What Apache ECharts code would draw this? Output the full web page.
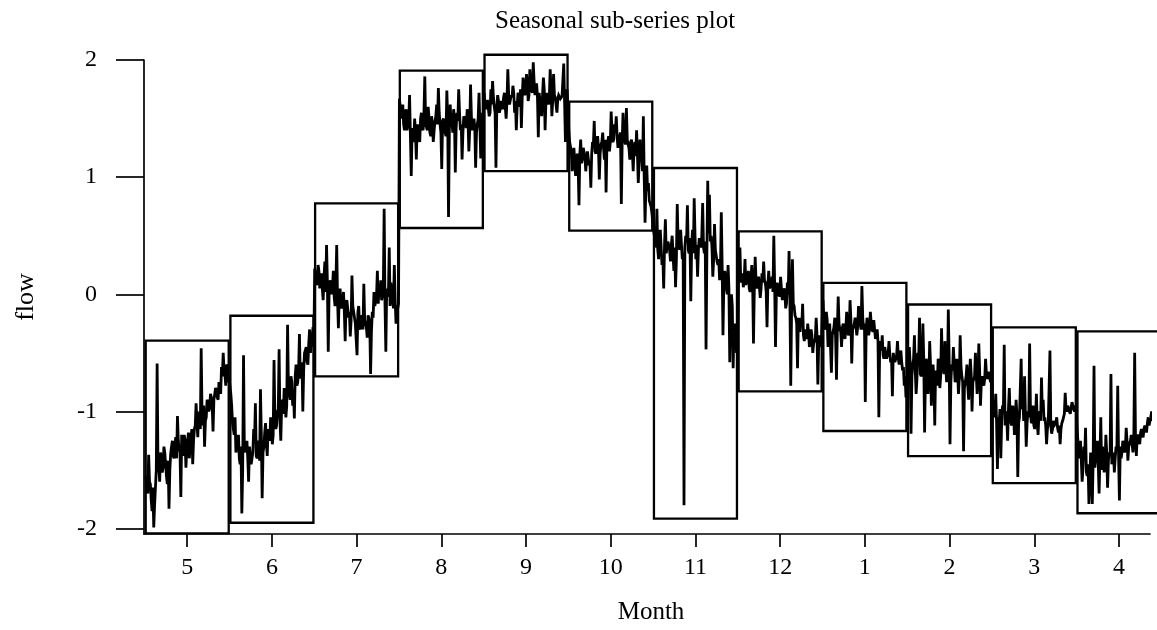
<!DOCTYPE html>
<html><head><meta charset="utf-8">
<script src="https://cdn.jsdelivr.net/npm/echarts@6/dist/echarts.min.js"></script>
<style>html,body{margin:0;padding:0;background:#fff}#c{width:1157px;height:630px}</style>
</head><body><div id="c"></div>
<script>
const months = ['5','6','7','8','9','10','11','12','1','2','3','4'];
const yTicks = [-2, -1, 0, 1, 2];
const boxHigh = [-0.395, -0.183, 0.776, 1.91, 2.045, 1.644, 1.078, 0.538, 0.097, -0.087, -0.282, -0.316];
const boxLow  = [-2.04, -1.95, -0.70, 0.566, 1.052, 0.544, -1.914, -0.828, -1.167, -1.382, -1.611, -1.869];

// readings of the flow trace, month by month (odd-numbered observations)
const flow_5 = [-1.58,-1.65,-1.37,-1.62,-1.85,-1.99,-1.80,-0.59,-1.48,-1.35,-1.52,-1.30,-1.45,-1.62,-1.83,-1.36,-1.25,-1.40,-1.22,-1.04,-1.32,-1.73,-1.30,-1.20,-1.48,-1.25,-1.40,-1.22,-1.45,-1.15,-0.93,-1.22,-1.10,-0.46,-1.12,-1.30,-1.05,-0.92,-0.97,-0.88,-1.17,-0.85,-0.82,-0.90,-0.78,-0.62,-0.50,-0.68,-0.60,-0.75];
const flow_6 = [-0.72,-0.95,-1.15,-1.05,-1.30,-1.20,-1.45,-1.87,-0.52,-1.35,-1.25,-1.60,-1.30,-1.45,-1.15,-0.93,-1.40,-1.25,-0.81,-1.74,-1.30,-1.10,-1.38,-1.20,-1.05,-1.28,-0.56,-1.15,-1.00,-0.47,-1.25,-0.90,-0.80,-1.05,-0.26,-0.85,-0.70,-0.95,-1.06,-0.60,-0.75,-0.34,-0.62,-1.00,-0.50,-0.45,-0.60,-0.30,-0.40,-0.28];
const flow_7 = [0.22,0.10,0.25,0.05,0.18,-0.05,0.28,0.42,-0.49,0.12,0.00,0.20,-0.10,0.42,-0.29,0.05,-0.12,0.02,-0.40,-0.05,-0.20,-0.36,0.16,-0.15,-0.25,-0.52,-0.10,-0.30,-0.18,0.09,-0.25,-0.37,-0.20,-0.68,-0.15,0.02,-0.10,0.20,0.05,0.12,-0.05,0.73,-0.49,0.05,0.40,0.10,-0.05,0.25,-0.25,-0.12];
const flow_8 = [1.67,1.55,1.62,1.40,1.58,1.45,1.70,1.01,1.35,1.50,1.15,1.42,1.30,1.55,1.40,1.86,1.45,1.60,1.38,1.52,1.30,1.48,1.62,1.76,1.45,1.07,1.50,1.38,1.74,0.66,1.62,1.48,1.58,1.04,1.55,1.75,1.40,1.15,1.52,1.45,1.58,1.22,1.79,1.40,1.50,1.08,1.45,1.72,1.16,1.55];
const flow_9 = [1.72,1.60,1.66,1.52,1.75,1.82,1.60,1.08,1.70,1.55,1.65,1.58,1.72,1.50,1.92,1.62,1.70,1.78,1.55,1.40,1.72,1.60,1.42,1.85,1.70,1.88,1.65,1.92,1.75,1.98,1.70,1.80,1.34,1.65,1.52,1.85,1.40,1.72,1.62,1.92,1.52,1.88,1.68,1.55,1.70,1.67,1.69,1.97,1.30,1.75];
const flow_10 = [1.40,1.30,1.05,1.25,1.01,1.20,0.76,1.32,1.15,1.25,1.05,1.22,1.10,0.91,1.30,1.48,1.20,1.35,0.98,1.28,1.38,1.15,0.87,1.30,1.22,1.56,1.30,1.45,1.52,1.25,1.35,0.77,1.55,1.30,1.59,1.28,1.15,1.32,1.05,1.30,1.40,0.95,1.32,1.20,1.52,0.61,1.10,0.95,0.80,0.70];
const flow_11 = [0.55,0.40,0.73,0.30,0.55,0.25,0.05,0.64,0.35,0.45,0.28,0.50,0.20,0.06,0.77,0.40,0.55,0.30,-1.80,0.50,0.76,0.35,-0.06,0.55,0.82,0.30,0.15,0.48,0.40,0.78,0.35,-0.47,0.97,0.85,0.50,0.15,0.60,0.38,0.25,0.12,0.70,-0.35,0.20,0.05,0.25,-0.58,0.00,-0.63,-0.25,-0.50];
const flow_12 = [0.10,0.40,0.15,0.06,0.30,0.12,0.20,0.02,0.25,-0.42,0.32,0.05,0.15,-0.03,0.18,0.28,0.10,-0.28,0.20,0.05,0.15,0.50,-0.45,0.10,0.00,0.15,-0.05,0.05,-0.12,0.10,0.37,-0.78,0.30,-0.10,-0.20,-0.63,-0.30,-0.20,-0.08,-0.40,-0.35,-0.25,-0.45,-0.30,-0.50,-0.40,-0.20,-0.77,-0.35,-0.45];
const flow_1 = [-0.05,-0.30,-0.15,-0.45,-0.25,-0.67,-0.35,-0.20,-0.73,-0.02,-0.30,-0.45,-0.25,-0.38,-0.15,-0.35,-0.05,-0.59,-0.28,-0.20,-0.35,-0.10,-0.25,0.07,-0.30,-0.92,-0.20,-0.35,-0.15,-0.30,-0.22,-0.38,-0.30,-1.05,-0.40,-0.35,-0.55,-0.45,-0.52,-0.40,-0.58,-0.87,-0.50,-0.55,-0.40,-0.60,-0.48,-0.65,-0.78,-0.88];
const flow_2 = [-0.70,-0.45,-1.19,-0.60,-0.35,-0.85,-0.50,-0.20,-0.70,-0.25,-1.18,-0.55,-0.85,-0.40,-0.95,-0.60,-1.12,-0.70,-0.55,-0.80,-0.29,-0.65,-0.40,-0.75,-0.13,-1.28,-0.60,-0.45,-0.75,-0.55,-0.85,-0.35,-0.70,-1.34,-0.80,-0.60,-0.90,-0.55,-1.00,-0.75,-0.50,-0.85,-0.42,-0.95,-0.70,-0.78,-0.55,-0.72,-0.66,-0.75];
const flow_3 = [-0.90,-1.05,-0.85,-1.49,-1.10,-1.40,-0.95,-0.43,-1.00,-1.25,-0.80,-1.10,-0.95,-1.20,-0.90,-1.56,-1.05,-0.55,-0.90,-0.70,-1.30,-1.00,-0.42,-1.10,-0.95,-1.15,-0.85,-1.20,-1.00,-0.71,-0.90,-1.05,-1.28,-1.10,-0.48,-1.19,-1.08,-1.12,-1.05,-1.18,-1.28,-1.10,-1.05,-0.84,-1.00,-0.95,-1.02,-0.92,-0.98,-0.95];
const flow_4 = [-1.15,-1.40,-1.25,-1.60,-1.30,-1.14,-1.55,-1.79,-1.35,-1.79,-0.61,-1.40,-1.25,-1.70,-1.05,-1.30,-1.52,-1.20,-1.65,-1.35,-0.68,-1.40,-1.52,-1.30,-0.78,-1.76,-1.40,-1.25,-1.35,-1.14,-1.42,-1.30,-1.20,-1.35,-0.50,-1.38,-1.20,-1.28,-1.15,-1.22,-1.12,-1.18,-1.05,-1.12,-1.00,-1.08,-0.95,-0.87];

const mid_5 = [-1.55,-1.70,-1.60,-1.75,-1.65,-1.80,-1.50,-1.45,-1.60,-1.40,-1.48,-1.35,-1.55,-1.42,-1.50,-1.30,-1.38,-1.28,-1.40,-1.25,-1.35,-1.20,-1.38,-1.25,-1.32,-1.18,-1.30,-1.15,-1.25,-1.12,-1.10,-1.00,-1.15,-1.02,-0.95,-1.08,-0.90,-1.00,-0.85,-0.95,-0.90,-0.80,-0.88,-0.75,-0.85,-0.70,-0.65,-0.78,-0.62,-0.72];
const mid_6 = [-0.85,-1.10,-1.20,-1.35,-1.25,-1.40,-1.30,-1.50,-1.35,-1.28,-1.40,-1.30,-1.45,-1.35,-1.25,-1.38,-1.30,-1.42,-1.20,-1.35,-1.18,-1.28,-1.15,-1.25,-1.10,-1.20,-1.05,-1.12,-0.98,-1.08,-0.95,-1.02,-0.88,-0.95,-0.80,-0.90,-0.75,-0.85,-0.70,-0.78,-0.65,-0.72,-0.58,-0.65,-0.50,-0.58,-0.42,-0.50,-0.38,-0.45];
const mid_7 = [0.15,0.08,0.20,0.12,0.05,0.15,0.02,0.10,0.00,0.08,0.05,-0.02,0.08,-0.05,0.00,-0.10,-0.05,-0.15,-0.08,-0.12,-0.15,-0.22,-0.10,-0.20,-0.25,-0.15,-0.28,-0.20,-0.30,-0.22,-0.28,-0.18,-0.25,-0.32,-0.20,-0.10,-0.02,-0.08,0.00,-0.05,0.02,-0.08,0.05,-0.02,-0.10,0.00,-0.12,-0.05,-0.15,-0.08];
const mid_8 = [1.60,1.50,1.45,1.55,1.40,1.48,1.35,1.42,1.30,1.38,1.45,1.35,1.50,1.42,1.55,1.45,1.40,1.50,1.35,1.45,1.40,1.52,1.45,1.55,1.38,1.48,1.42,1.35,1.50,1.40,1.45,1.38,1.50,1.42,1.48,1.55,1.45,1.38,1.50,1.42,1.48,1.40,1.52,1.45,1.42,1.38,1.50,1.45,1.40,1.52];
const mid_9 = [1.62,1.58,1.65,1.55,1.62,1.68,1.55,1.60,1.65,1.58,1.62,1.68,1.60,1.65,1.70,1.62,1.68,1.72,1.65,1.60,1.70,1.75,1.68,1.78,1.72,1.80,1.70,1.78,1.72,1.82,1.75,1.68,1.72,1.62,1.70,1.75,1.65,1.72,1.68,1.75,1.66,1.70,1.68,1.67,1.69,1.68,1.70,1.65,1.55,1.60];
const mid_10 = [1.30,1.22,1.18,1.25,1.15,1.10,1.20,1.12,1.25,1.18,1.15,1.22,1.12,1.20,1.28,1.22,1.30,1.25,1.20,1.30,1.25,1.32,1.28,1.35,1.30,1.38,1.32,1.40,1.35,1.30,1.38,1.30,1.35,1.28,1.32,1.25,1.30,1.22,1.25,1.18,1.20,1.12,1.15,1.05,1.00,0.92,0.88,0.80,0.75,0.62];
const mid_11 = [0.50,0.45,0.38,0.48,0.40,0.32,0.42,0.35,0.45,0.38,0.42,0.35,0.40,0.30,0.45,0.38,0.42,0.35,0.40,0.45,0.38,0.48,0.40,0.35,0.50,0.42,0.38,0.45,0.50,0.40,0.45,0.35,0.52,0.45,0.40,0.30,0.38,0.28,0.30,0.20,0.25,0.10,0.15,0.00,0.05,-0.15,-0.10,-0.30,-0.35,-0.45];
const mid_12 = [0.15,0.10,0.18,0.12,0.08,0.15,0.05,0.12,0.10,0.05,0.12,0.08,0.15,0.05,0.10,0.12,0.02,0.08,0.05,0.10,0.02,0.08,0.00,0.05,-0.02,0.05,-0.05,0.02,-0.08,0.00,-0.05,-0.12,-0.08,-0.18,-0.25,-0.20,-0.32,-0.28,-0.35,-0.30,-0.38,-0.32,-0.40,-0.35,-0.42,-0.38,-0.35,-0.42,-0.38,-0.45];
const mid_1 = [-0.20,-0.28,-0.22,-0.32,-0.25,-0.35,-0.28,-0.38,-0.30,-0.25,-0.32,-0.28,-0.35,-0.30,-0.25,-0.32,-0.22,-0.30,-0.25,-0.20,-0.28,-0.22,-0.30,-0.20,-0.25,-0.32,-0.28,-0.30,-0.25,-0.32,-0.30,-0.35,-0.40,-0.45,-0.48,-0.52,-0.45,-0.55,-0.50,-0.52,-0.55,-0.50,-0.58,-0.52,-0.55,-0.60,-0.58,-0.62,-0.70,-0.80];
const mid_2 = [-0.75,-0.60,-0.70,-0.55,-0.65,-0.72,-0.58,-0.68,-0.62,-0.55,-0.70,-0.62,-0.75,-0.60,-0.68,-0.72,-0.65,-0.78,-0.62,-0.70,-0.58,-0.68,-0.62,-0.70,-0.55,-0.75,-0.65,-0.60,-0.72,-0.66,-0.72,-0.62,-0.75,-0.80,-0.70,-0.78,-0.72,-0.68,-0.75,-0.70,-0.68,-0.72,-0.65,-0.75,-0.70,-0.72,-0.68,-0.70,-0.72,-0.68];
const mid_3 = [-0.95,-1.00,-1.10,-1.05,-0.98,-1.08,-1.00,-1.12,-1.05,-0.98,-1.05,-1.12,-1.00,-1.08,-1.02,-1.10,-1.05,-0.98,-1.08,-1.02,-1.10,-1.05,-1.00,-1.08,-1.12,-1.05,-1.10,-1.02,-1.08,-1.00,-1.08,-1.12,-1.15,-1.10,-1.12,-1.15,-1.12,-1.10,-1.14,-1.12,-1.15,-1.08,-1.02,-0.98,-0.95,-1.00,-0.97,-0.95,-1.00,-0.98];
const mid_4 = [-1.25,-1.35,-1.42,-1.48,-1.40,-1.52,-1.45,-1.60,-1.50,-1.42,-1.48,-1.35,-1.45,-1.40,-1.50,-1.38,-1.45,-1.35,-1.42,-1.38,-1.45,-1.35,-1.40,-1.32,-1.38,-1.30,-1.35,-1.28,-1.32,-1.25,-1.30,-1.25,-1.28,-1.22,-1.25,-1.20,-1.22,-1.18,-1.20,-1.15,-1.15,-1.10,-1.12,-1.05,-1.08,-1.00,-0.98,-0.92];

const monthFlows = [flow_5, flow_6, flow_7, flow_8, flow_9, flow_10, flow_11, flow_12, flow_1, flow_2, flow_3, flow_4];
const monthMids  = [mid_5, mid_6, mid_7, mid_8, mid_9, mid_10, mid_11, mid_12, mid_1, mid_2, mid_3, mid_4];
const PTS = 50; // observation pairs per month slot

const lineData = [];
monthFlows.forEach((arr, i) => {
  arr.forEach((v, k) => {
    lineData.push([i - 0.5 + (k + 0.25) / PTS, v]);
    lineData.push([i - 0.5 + (k + 0.75) / PTS, monthMids[i][k]]);
  });
});
const boxData = months.map((m, i) => [i, boxLow[i], boxHigh[i]]);
const monthIdx = months.map((m, i) => i);

const FONT = 'Liberation Serif';
const chart = echarts.init(document.getElementById('c'), null, {renderer: 'canvas'});
chart.setOption({
  animation: false,
  backgroundColor: '#ffffff',
  title: {
    text: 'Seasonal sub-series plot',
    left: 490, top: 4,
    textStyle: {fontFamily: FONT, fontSize: 25, fontWeight: 'normal', color: '#000'}
  },
  grid: {left: 144, right: 7, top: 60, bottom: 93, containLabel: false},
  xAxis: {
    type: 'value', min: -0.51, max: 11.366,
    axisLine: {show: true, onZero: false, lineStyle: {color: '#000', width: 1.7}},
    axisTick: {show: true, customValues: monthIdx, length: 13, lineStyle: {color: '#000', width: 1.7}},
    axisLabel: {customValues: monthIdx, formatter: v => months[Math.round(v)], fontFamily: FONT, fontSize: 24, color: '#000', margin: 22},
    splitLine: {show: false},
    name: 'Month', nameLocation: 'middle', nameGap: 66,
    nameTextStyle: {fontFamily: FONT, fontSize: 25, color: '#000', padding: [0, 0, 0, 8]}
  },
  yAxis: {
    type: 'value', min: -2.046, max: 2,
    axisLine: {show: true, onZero: false, lineStyle: {color: '#000', width: 1.7}},
    axisTick: {show: true, customValues: yTicks, length: 28, lineStyle: {color: '#000', width: 1.7}},
    axisLabel: {customValues: yTicks, fontFamily: FONT, fontSize: 24, color: '#000', margin: 47},
    splitLine: {show: false},
    name: 'flow', nameLocation: 'middle', nameGap: 105, nameRotate: 90,
    nameTextStyle: {fontFamily: FONT, fontSize: 26, color: '#000'}
  },
  series: [
    {
      type: 'custom', clip: false, data: boxData,
      encode: {x: 0, y: [1, 2]},
      renderItem: (params, api) => {
        const i = api.value(0);
        const p1 = api.coord([i - 0.49, api.value(2)]);
        const p2 = api.coord([i + 0.49, api.value(1)]);
        return {type: 'rect', shape: {x: p1[0], y: p1[1], width: p2[0] - p1[0], height: p2[1] - p1[1]},
                style: {fill: 'none', stroke: '#000', lineWidth: 2.3}};
      }
    },
    {
      type: 'line', data: lineData, showSymbol: false, symbol: 'none', clip: false,
      lineStyle: {color: '#000', width: 2.8, join: 'miter', miterLimit: 3}
    }
  ]
});
</script></body></html>
